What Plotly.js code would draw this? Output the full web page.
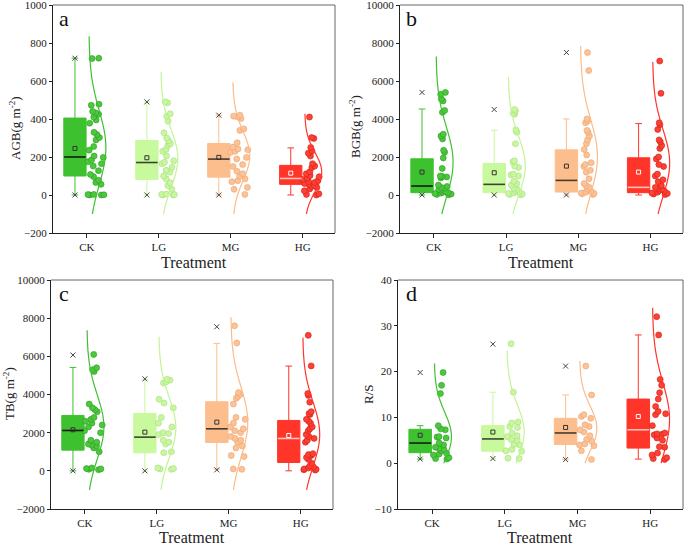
<!DOCTYPE html>
<html><head><meta charset="utf-8">
<script src="https://cdn.plot.ly/plotly-3.0.1.min.js"></script>
<style>html,body{margin:0;padding:0;background:#fff}#chart{width:685px;height:545px}</style>
</head><body><div id="chart"></div>
<script>
// ---------- DATA ----------
const categories = ['CK', 'LG', 'MG', 'HG'];
const panelLetters = ['a', 'b', 'c', 'd'];
const yTitles = ['AGB(g m<sup>-2</sup>)', 'BGB(g m<sup>-2</sup>)', 'TB(g m<sup>-2</sup>)', 'R/S'];
const xTitle = 'Treatment';

// Panel a: AGB sample points
const agbCK = [720,718,478,472,440,432,425,410,395,378,330,318,302,290,255,236,205,198,185,175,165,152,128,108,96,78,66,56,3,2,1,0,0];
const agbLG = [490,485,428,414,388,327,300,285,270,262,240,230,205,180,172,165,145,130,120,100,85,65,50,30,5,3,2,0,0];
const agbMG = [420,415,410,402,348,340,275,252,242,238,230,225,198,190,160,150,125,112,100,85,75,70,40,30,3];
const agbHG = [410,302,298,250,232,220,205,165,152,145,122,112,102,96,88,82,76,70,66,60,56,50,45,40,32,22,6,3,0];
const agbQ1 = [100, 82, 94, 56];
const agbMedian = [200, 171, 189, 87];
const agbQ3 = [405, 287, 271, 156];
const agbLower = [0, 0, 0, 0];
const agbUpper = [720, 490, 420, 248];
const agbMean = [245, 196, 198, 115];
const agbMin = [0, 0, 0, 0];
const agbMax = [720, 490, 420, 410];

// Panel b: BGB
const bgbCK = [5400,5300,5050,4950,4450,4350,3200,3100,2950,2350,2250,1950,1400,1000,980,950,900,520,450,400,350,300,250,200,150,120,100,80,50,30,10];
const bgbLG = [4500,4420,4300,4250,3420,3300,2700,1800,1750,1520,1450,1100,1060,1000,720,600,520,360,300,220,160,110,80,50,30,10];
const bgbMG = [7500,6550,4000,3900,3800,3400,3300,3100,2900,2700,2400,2100,1700,1600,1500,1300,1200,850,600,500,400,300,200,150,100,80,60,30];
const bgbHG = [7050,5350,3800,3700,3450,2900,2800,2600,2450,2000,1900,1600,1500,1100,1000,800,700,500,400,350,300,250,200,150,100,80,50,20];
const bgbQ1 = [122, 122, 157, 122];
const bgbMedian = [472, 560, 769, 402];
const bgbQ3 = [1905, 1660, 2377, 1958];
const bgbLower = [0, 0, 0, 0];
const bgbUpper = [4527, 3409, 4003, 3758];
const bgbMean = [1206, 1171, 1520, 1206];
const bgbMin = [0, 0, 0, 0];
const bgbMax = [5400, 4500, 7500, 7050];

// Panel c: TB
const tbCK = [6100,5400,5300,5200,3500,3300,3200,3100,2800,2700,2600,2500,2400,2300,2100,2000,1600,1500,1400,1350,1300,1200,1000,150,120,100,80,60];
const tbLG = [4800,4750,4650,4600,3750,3550,3300,2800,2500,2300,2000,1950,1900,1600,1500,1400,1000,950,150,120,100,80];
const tbMG = [7600,6700,4100,4000,3900,3800,3500,2800,2700,2500,2300,2200,2100,2000,1800,1700,1600,1500,1300,1200,800,750,100,80];
const tbHG = [7100,5500,4050,3950,3600,3100,3000,2950,2700,2600,2500,2300,2200,2100,1900,1800,1700,1600,1500,900,850,800,700,600,400,250,200,150,100,80,60,40];
const tbQ1 = [1084, 944, 1486, 437];
const tbMedian = [2115, 1765, 2202, 1696];
const tbQ3 = [2902, 3007, 3620, 2640];
const tbLower = [0, 0, 80, 0];
const tbUpper = [5419, 4807, 6677, 5489];
const tbMean = [2150, 2028, 2552, 1853];
const tbMin = [0, 0, 50, 0];
const tbMax = [6066, 4820, 7550, 7100];

// Panel d: R/S
const rsCK = [19.8,17.0,15.2,8.2,7.5,7.3,5.8,5.7,5.5,4.4,4.0,3.5,3.2,3.0,2.7,2.2,2.0,1.8,1.2,1.0,0.9];
const rsLG = [26.1,15.5,9.0,8.8,8.0,7.8,6.6,6.0,5.8,5.2,5.0,4.1,4.0,3.0,2.7,2.6,1.1,1.0];
const rsMG = [21.2,14.9,10.6,10.2,9.8,8.4,8.0,7.3,6.8,6.0,5.2,4.8,4.2,4.0,3.8,2.7,0.8];
const rsHG = [32.0,28.0,18.3,17.0,15.4,14.0,12.4,11.3,10.8,10.6,8.2,6.6,6.4,6.3,6.2,5.5,5.0,3.6,3.5,2.2,1.8,1.2,1.0,0.8];
const rsQ1 = [2.3, 2.6, 4.1, 3.3];
const rsMedian = [4.4, 5.3, 6.6, 7.3];
const rsQ3 = [7.4, 8.2, 9.8, 14.0];
const rsLower = [0.9, 1.0, 0.8, 0.9];
const rsUpper = [8.2, 15.5, 14.9, 28.0];
const rsMean = [6.1, 6.8, 7.8, 10.2];
const rsMin = [0.9, 1.0, 0.8, 0.9];
const rsMax = [19.8, 26.0, 21.2, 32.0];

// ---------- STYLE ----------
const FONT = 'Liberation Serif, Times New Roman, serif';
const fillColors = ['#3ec12f', '#c8f99c', '#fdbe8d', '#ff3529'];
const curveColors = ['#3ec12f', '#c2f594', '#fdbb88', '#ff3529'];
const pointColors = ['#4cc83d', '#c9f7a0', '#fdc295', '#ff4034'];
const pointLines = ['#2c9a21', '#a6de7c', '#e9a370', '#cf1d14'];
const medianColors = ['#1a1a1a', '#3a4634', '#4a3a2c', '#ffc4bc'];
const meanColors = ['#333', '#333', '#333', '#fff'];
const crossColors = ['#444', '#444', '#444', 'rgba(0,0,0,0)'];

const panels = [
  {pts: [agbCK, agbLG, agbMG, agbHG], q1: agbQ1, med: agbMedian, q3: agbQ3, lo: agbLower, hi: agbUpper, mean: agbMean, mn: agbMin, mx: agbMax,
   range: [-200, 1000], dtick: 200, floor: -100,
   xd: [53/685, 335/685], yd: [1 - 233/545, 1 - 5/545]},
  {pts: [bgbCK, bgbLG, bgbMG, bgbHG], q1: bgbQ1, med: bgbMedian, q3: bgbQ3, lo: bgbLower, hi: bgbUpper, mean: bgbMean, mn: bgbMin, mx: bgbMax,
   range: [-2000, 10000], dtick: 2000, floor: -1000,
   xd: [400/685, 683/685], yd: [1 - 233/545, 1 - 5/545]},
  {pts: [tbCK, tbLG, tbMG, tbHG], q1: tbQ1, med: tbMedian, q3: tbQ3, lo: tbLower, hi: tbUpper, mean: tbMean, mn: tbMin, mx: tbMax,
   range: [-2000, 10000], dtick: 2000, floor: -1000,
   xd: [51/685, 333/685], yd: [1 - 509/545, 1 - 280/545]},
  {pts: [rsCK, rsLG, rsMG, rsHG], q1: rsQ1, med: rsMedian, q3: rsQ3, lo: rsLower, hi: rsUpper, mean: rsMean, mn: rsMin, mx: rsMax,
   range: [-10, 40], dtick: 10, floor: 0,
   xd: [398/685, 683/685], yd: [1 - 509/545, 1 - 280/545]}
];

const BOX_OFF = -0.165, BOX_W = 0.31;
const PTS_OFF = 0.13, PTS_W = 0.28;
const CURVE_BASE = 0.03, CURVE_AMP = 0.235;

const traces = [];
const layout = {
  width: 685, height: 545, margin: {l: 0, r: 0, t: 0, b: 0},
  paper_bgcolor: '#fff', plot_bgcolor: '#fff', showlegend: false,
  boxmode: 'overlay', font: {family: FONT, color: '#222'},
  shapes: [], annotations: []
};

panels.forEach((p, k) => {
  const n = k + 1;
  const xa = 'x' + (n === 1 ? '' : n), ya = 'y' + (n === 1 ? '' : n);
  const xName = 'xaxis' + (n === 1 ? '' : n), yName = 'yaxis' + (n === 1 ? '' : n);
  layout[xName] = {
    domain: p.xd, anchor: ya, type: 'linear', range: [-0.47, 3.45],
    tickvals: [0, 1, 2, 3], ticktext: categories, ticks: 'outside', ticklen: 4, tickcolor: '#222',
    showline: true, linecolor: '#222', linewidth: 1, showgrid: false, zeroline: false,
    tickfont: {family: FONT, size: 11, color: '#222'}
  };
  layout[yName] = {
    domain: p.yd, anchor: xa, range: p.range, tick0: 0, dtick: p.dtick, tickformat: 'd',
    ticklabeloverflow: 'allow',
    ticks: 'outside', ticklen: 3, tickcolor: '#222',
    showline: true, linecolor: '#222', linewidth: 1, showgrid: false, zeroline: false,
    tickfont: {family: FONT, size: 11, color: '#222'}
  };
  // grey top/right frame
  layout.shapes.push({type: 'line', xref: xa + ' domain', yref: ya + ' domain', x0: 0, x1: 1, y0: 1, y1: 1, line: {color: '#666', width: 1}});
  layout.shapes.push({type: 'line', xref: xa + ' domain', yref: ya + ' domain', x0: 1, x1: 1, y0: 0, y1: 1, line: {color: '#666', width: 1}});

  categories.forEach((c, i) => {
    // box with whiskers
    traces.push({
      type: 'box', xaxis: xa, yaxis: ya, x: [i + BOX_OFF],
      q1: [p.q1[i]], median: [p.med[i]], q3: [p.q3[i]], lowerfence: [p.lo[i]], upperfence: [p.hi[i]],
      width: BOX_W, whiskerwidth: 0.3, boxpoints: false,
      fillcolor: fillColors[i], line: {color: fillColors[i], width: 1}, hoverinfo: 'skip'
    });
    // median line
    traces.push({
      type: 'scatter', mode: 'lines', xaxis: xa, yaxis: ya,
      x: [i + BOX_OFF - BOX_W / 2 + 0.005, i + BOX_OFF + BOX_W / 2 - 0.005], y: [p.med[i], p.med[i]],
      line: {color: medianColors[i], width: 1.6}, hoverinfo: 'skip'
    });
    // mean marker
    traces.push({
      type: 'scatter', mode: 'markers', xaxis: xa, yaxis: ya, x: [i + BOX_OFF], y: [p.mean[i]],
      marker: {symbol: 'square-open', size: 4, color: meanColors[i], line: {width: 1}}, hoverinfo: 'skip'
    });
    // min / max crosses
    traces.push({
      type: 'scatter', mode: 'markers', xaxis: xa, yaxis: ya, x: [i + BOX_OFF, i + BOX_OFF], y: [p.mn[i], p.mx[i]],
      marker: {symbol: 'x-thin-open', size: 5, color: crossColors[i], line: {width: 1, color: crossColors[i]}}, hoverinfo: 'skip'
    });
    // jittered sample points (Plotly box jitter, invisible box)
    traces.push({
      type: 'box', xaxis: xa, yaxis: ya, y: p.pts[i], x0: i + PTS_OFF, width: PTS_W,
      boxpoints: 'all', jitter: 1, pointpos: 0,
      fillcolor: 'rgba(0,0,0,0)', line: {color: 'rgba(0,0,0,0)', width: 0},
      marker: {color: pointColors[i], size: 6, line: {color: pointLines[i], width: 0.6}},
      hoverinfo: 'skip'
    });
    // normal distribution curve from the sample
    const d = p.pts[i];
    const m = d.reduce((a, b) => a + b, 0) / d.length;
    const sd = Math.sqrt(d.reduce((a, b) => a + (b - m) * (b - m), 0) / (d.length - 1));
    const lo = Math.max(p.floor, m - 3 * sd), hi = m + 3 * sd;
    const cx = [], cy = [];
    for (let s = 0; s <= 120; s++) {
      const y = lo + (hi - lo) * s / 120;
      const z = (y - m) / sd;
      cx.push(i + CURVE_BASE + CURVE_AMP * Math.exp(-0.5 * z * z));
      cy.push(y);
    }
    traces.push({
      type: 'scatter', mode: 'lines', xaxis: xa, yaxis: ya, x: cx, y: cy,
      line: {color: curveColors[i], width: 1.2, shape: 'spline'}, hoverinfo: 'skip'
    });
  });
});

// annotations: panel letters, y titles, x titles
const letterPos = [[64, 18], [411, 18], [64, 293], [411, 293]];
const yTitlePos = [[15, 128], [355, 127], [9, 394], [368, 394]];
const xTitlePos = [[194, 262], [541, 262], [192, 537], [540, 537]];
panelLetters.forEach((l, k) => {
  layout.annotations.push({text: l, xref: 'paper', yref: 'paper', x: letterPos[k][0] / 685, y: 1 - letterPos[k][1] / 545,
    xanchor: 'center', yanchor: 'middle', showarrow: false, font: {family: FONT, size: 22, color: '#111'}});
  layout.annotations.push({text: yTitles[k], xref: 'paper', yref: 'paper', x: yTitlePos[k][0] / 685, y: 1 - yTitlePos[k][1] / 545,
    xanchor: 'center', yanchor: 'middle', textangle: -90, showarrow: false, font: {family: FONT, size: 13, color: '#222'}});
  layout.annotations.push({text: xTitle, xref: 'paper', yref: 'paper', x: xTitlePos[k][0] / 685, y: 1 - xTitlePos[k][1] / 545,
    xanchor: 'center', yanchor: 'middle', showarrow: false, font: {family: FONT, size: 16, color: '#222'}});
});

Plotly.newPlot('chart', traces, layout, {staticPlot: true, displayModeBar: false});
</script>
</body></html>
